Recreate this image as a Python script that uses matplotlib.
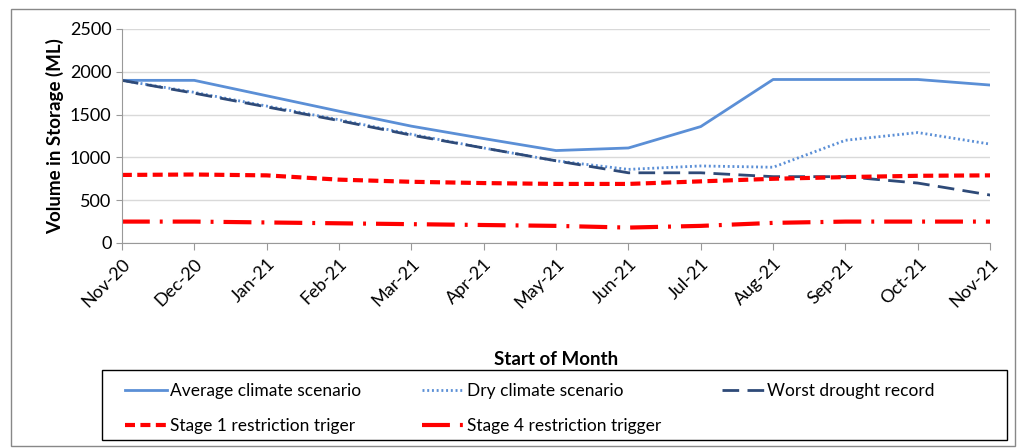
import matplotlib.pyplot as plt
from matplotlib.patches import Rectangle

months = ['Nov-20', 'Dec-20', 'Jan-21', 'Feb-21', 'Mar-21', 'Apr-21', 'May-21',
          'Jun-21', 'Jul-21', 'Aug-21', 'Sep-21', 'Oct-21', 'Nov-21']

average = [1900, 1900, 1720, 1540, 1365, 1220, 1080, 1110, 1360, 1910, 1910, 1910, 1845]
dry = [1900, 1760, 1600, 1440, 1270, 1110, 960, 860, 900, 885, 1200, 1290, 1155]
worst = [1900, 1750, 1590, 1430, 1260, 1110, 960, 820, 820, 775, 775, 700, 560]
stage1 = [795, 800, 790, 740, 715, 700, 690, 690, 720, 750, 770, 785, 790]
stage4 = [250, 250, 240, 230, 220, 210, 200, 180, 200, 235, 250, 250, 250]

plt.rcParams['font.family'] = ['Lato', 'DejaVu Sans']

fig = plt.figure(figsize=(10.24, 4.48), dpi=100)
ax = fig.add_axes([0.119, 0.4576, 0.848, 0.4777])

x = range(len(months))
l_avg, = ax.plot(x, average, color='#5B8FD6', lw=2, label='Average climate scenario')
l_dry, = ax.plot(x, dry, color='#5B8FD6', lw=2, ls=(0, (0.7, 1.0)), label='Dry climate scenario')
l_wst, = ax.plot(x, worst, color='#2E4A78', lw=2, ls=(0, (6, 3)), label='Worst drought record')
l_s1, = ax.plot(x, stage1, color='#FF0000', lw=3, ls=(0, (2.4, 1.3)), label='Stage 1 restriction triger')
l_s4, = ax.plot(x, stage4, color='#FF0000', lw=3, ls=(0, (6.7, 2.4, 0.7, 2.4)),
                label='Stage 4 restriction trigger')

ax.set_xlim(0, len(months) - 1)
ax.set_ylim(0, 2500)
ax.set_yticks(range(0, 2501, 500))
ax.set_xticks(list(x))
ax.set_xticklabels(months, rotation=45, ha='right', rotation_mode='anchor', fontsize=13)
ax.tick_params(axis='y', labelsize=13, length=4, color='#999999')
ax.tick_params(axis='x', length=5, color='#999999', pad=4)
ax.grid(axis='y', color='#D9D9D9', lw=1)
ax.set_axisbelow(True)
for s in ['top', 'right']:
    ax.spines[s].set_visible(False)
for s in ['left', 'bottom']:
    ax.spines[s].set_color('#999999')

ax.set_ylabel('Volume in Storage (ML)', fontsize=13.5, fontweight='bold')
ax.set_xlabel('Start of Month', fontsize=13.5, fontweight='bold', labelpad=29)

# legend filled column-wise, so reorder to get row-wise layout
handles = [l_avg, l_s1, l_dry, l_s4, l_wst]
leg = fig.legend(handles=handles, labels=[h.get_label() for h in handles],
                 loc='upper left', bbox_to_anchor=(0.122, 0.145),
                 ncol=3, fontsize=12.5, frameon=False, borderpad=0, borderaxespad=0,
                 handlelength=2.4, handletextpad=0.2, labelspacing=1.1, columnspacing=3.5)

fig.patches.append(Rectangle((0.0996, 0.0179), 0.884, 0.156, transform=fig.transFigure,
                             fill=False, edgecolor='black', lw=1))
fig.patches.append(Rectangle((0.011, 0.005), 0.98, 0.975, transform=fig.transFigure,
                             fill=False, edgecolor='#888888', lw=1))

fig.savefig('out.png', dpi=100)
